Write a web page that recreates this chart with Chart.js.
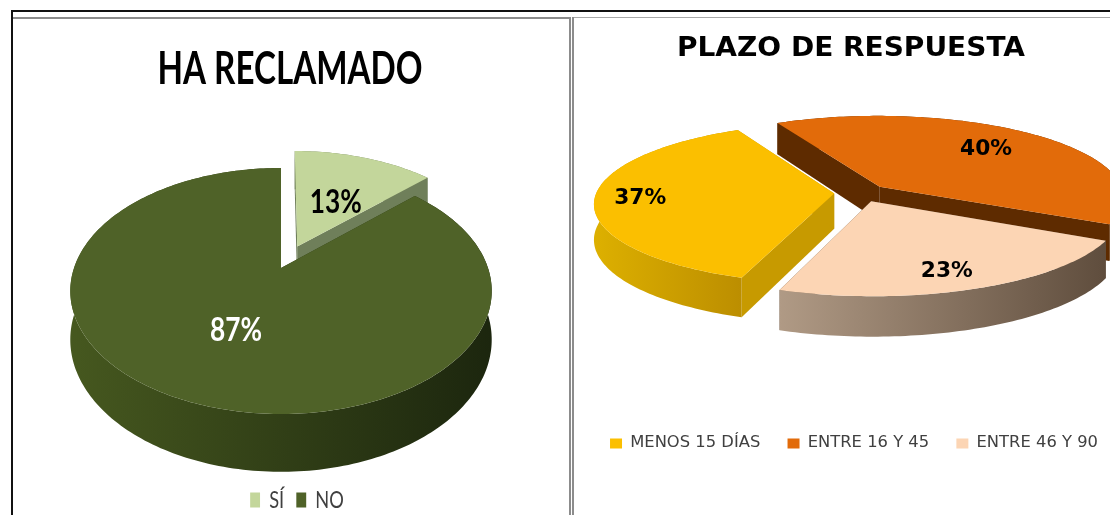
<!DOCTYPE html>
<html><head><meta charset="utf-8">
<style>
html,body{margin:0;padding:0;background:#fff;width:1110px;height:515px;overflow:hidden}
canvas{position:absolute;display:block;filter:blur(0.4px)}
.r{position:absolute}
</style>
<script src="https://cdn.jsdelivr.net/npm/chart.js@4/dist/chart.umd.min.js"></script>
</head><body>
<canvas id="a" width="554" height="522" style="left:13px;top:0"></canvas>
<canvas id="b" width="522" height="461" style="left:590px;top:0"></canvas>
<div class="r" style="left:11px;top:10px;width:1099px;height:2px;background:#111"></div>
<div class="r" style="left:11px;top:10px;width:2px;height:505px;background:#111"></div>
<div class="r" style="left:13px;top:17px;width:556px;height:2px;background:#8c8c8c"></div>
<div class="r" style="left:572px;top:17px;width:538px;height:1px;background:#a8a8a8"></div>
<div class="r" style="left:569px;top:17px;width:2px;height:498px;background:#8c8c8c"></div>
<div class="r" style="left:572px;top:17px;width:2px;height:498px;background:#8c8c8c"></div>
<script>
const reclamoCategories = ['SÍ', 'NO'];
const reclamoValues = [13, 87];
const plazoCategories = ['MENOS 15 DÍAS', 'ENTRE 16 Y 45', 'ENTRE 46 Y 90'];
const plazoValues = [37, 40, 23];

function pie3d(chart, o) {
  const ctx = chart.ctx, meta = chart.getDatasetMeta(0);
  const pr = (u, v) => { const s = 1 / (1 - o.p * v); return { x: o.cx + o.R * u * s, y: o.cy + o.k * v * s, s }; };
  const low = q => ({ x: q.x, y: q.y + o.depth * q.s });
  const slices = meta.data.map((el, i) => {
    const mid = (el.startAngle + el.endAngle) / 2, e = o.explode[i], sc = o.radius[i];
    const ou = Math.cos(mid) * e, ov = Math.sin(mid) * e, rim = [];
    const n = Math.ceil((el.endAngle - el.startAngle) / 0.02);
    for (let j = 0; j <= n; j++) {
      const a = el.startAngle + (el.endAngle - el.startAngle) * j / n;
      rim.push(pr(ou + sc * Math.cos(a), ov + sc * Math.sin(a)));
    }
    return { i, mid, ou, ov, rim, apex: pr(ou, ov) };
  });
  const poly = pts => { ctx.beginPath(); pts.forEach((q, j) => j ? ctx.lineTo(q.x, q.y) : ctx.moveTo(q.x, q.y)); ctx.closePath(); };
  [...slices].sort((a, b) => a.apex.y - b.apex.y).forEach(sl => {
    const st = o.slices[sl.i], first = sl.rim[0], last = sl.rim[sl.rim.length - 1];
    ctx.fillStyle = st.face;
    poly([sl.apex, first, low(first), low(sl.apex)]); ctx.fill();
    poly([sl.apex, last, low(last), low(sl.apex)]); ctx.fill();
    const xs = sl.rim.map(q => q.x), x0 = Math.min(...xs), x1 = Math.max(...xs);
    const g = ctx.createLinearGradient(x0, 0, x1, 0);
    g.addColorStop(0, st.side[0]); g.addColorStop(1, st.side[1]);
    ctx.fillStyle = g;
    poly([...sl.rim, ...sl.rim.map(low).reverse()]); ctx.fill();
    ctx.fillStyle = chart.data.datasets[0].backgroundColor[sl.i];
    poly([sl.apex, ...sl.rim]); ctx.fill();
  });
  ctx.textAlign = 'center'; ctx.textBaseline = 'middle';
  slices.forEach(sl => {
    const f = o.labelAt[sl.i], q = pr(sl.ou + Math.cos(sl.mid) * f, sl.ov + Math.sin(sl.mid) * f);
    const t = chart.data.datasets[0].data[sl.i] + '%';
    ctx.save();
    ctx.font = o.labelFont; ctx.fillStyle = o.labelColor[sl.i];
    const sx = o.labelWidth / ctx.measureText(t).width;
    ctx.translate(q.x + o.labelNudge[sl.i][0], q.y + o.labelNudge[sl.i][1]);
    ctx.scale(sx, 1);
    ctx.fillText(t, 0, 0);
    ctx.restore();
  });
}
function squeeze(chart, box, sx, center) {
  const orig = box.draw;
  box.draw = function (area) {
    const c = chart.ctx;
    c.save(); c.translate(center, 0); c.scale(sx, 1); c.translate(-center, 0);
    orig.call(box, area);
    c.restore();
  };
}
const plugin = {
  id: 'pie3d',
  beforeDraw(chart, args, opts) {
    if (chart.$prepared) return;
    chart.$prepared = true;
    const leg = chart.legend, tb = chart.titleBlock, c = chart.ctx;
    leg.left += opts.legendShift; leg.right += opts.legendShift;
    squeeze(chart, leg, opts.legendScale, (leg.left + leg.right) / 2);
    const f = tb.options.font;
    c.save(); c.font = f.weight + ' ' + f.size + 'px ' + f.family;
    const w = c.measureText(tb.options.text).width; c.restore();
    squeeze(chart, tb, opts.titleWidth / w, chart.width / 2);
  },
  beforeDatasetDraw(chart, args, opts) { pie3d(chart, opts); return false; }
};
Chart.register(plugin);
function build(id, labels, values, colors, rotation, title, legend, opts) {
  return new Chart(document.getElementById(id), {
    type: 'pie',
    data: { labels, datasets: [{ data: values, backgroundColor: colors, borderWidth: 0 }] },
    options: {
      responsive: false, animation: false, devicePixelRatio: 1, rotation,
      layout: { padding: 0 },
      plugins: {
        tooltip: { enabled: false },
        title: { display: true, text: title.text, color: '#000', font: title.font, padding: title.padding },
        legend: { display: true, position: 'bottom', onClick: null, labels: legend },
        pie3d: opts
      }
    }
  });
}
build('a', reclamoCategories, reclamoValues, ['#C3D69B', '#4F6228'], 0,
  { text: 'HA RECLAMADO', font: { family: 'Lato', size: 46, weight: 'bold', lineHeight: 1 }, padding: { top: 46, bottom: 10 } },
  { boxWidth: 13, boxHeight: 15, padding: 16, color: '#404040', font: { family: 'Lato', size: 24 } },
  { cx: 268, cy: 268, R: 207, k: 118.7, p: 0.187, depth: 47, explode: [0.205, 0], radius: [1.02, 1], labelAt: [0.5, 0.51], labelNudge: [[3, 3], [1, 2]],
    labelFont: 'bold 32px Lato', labelWidth: 52, labelColor: ['#000', '#fff'], legendShift: 7, legendScale: 0.76, titleWidth: 265,
    slices: [{ face: '#6F7F5A', side: ['#6F7F5A', '#6F7F5A'] }, { face: '#2A3714', side: ['#46581F', '#1C260E'] }] });
build('b', plazoCategories, plazoValues, ['#FBBF00', '#E26B0A', '#FCD5B4'], 199.4,
  { text: 'PLAZO DE RESPUESTA', font: { family: '"DejaVu Sans"', size: 27, weight: 'bold', lineHeight: 1 }, padding: { top: 35, bottom: 10 } },
  { boxWidth: 11, boxHeight: 10, padding: 25, color: '#404040', font: { family: '"DejaVu Sans"', size: 15 } },
  { cx: 271, cy: 193, R: 244, k: 81, p: 0.1226, depth: 35, explode: [0.11, 0.11, 0.11], radius: [0.975, 1, 1], labelAt: [0.79, 0.69, 0.765], labelNudge: [[0, 0], [-3, 0], [-3, 6]],
    labelFont: 'bold 21px "DejaVu Sans"', labelWidth: 52, labelColor: ['#000', '#000', '#000'], legendShift: 3, legendScale: 1.09, titleWidth: 348,
    slices: [{ face: '#C79A00', side: ['#DDB000', '#BC8E00'] }, { face: '#5E2B00', side: ['#5E2B00', '#5E2B00'] }, { face: '#6a5848', side: ['#B09A85', '#5F4D3D'] }] });
</script>
</body></html>
